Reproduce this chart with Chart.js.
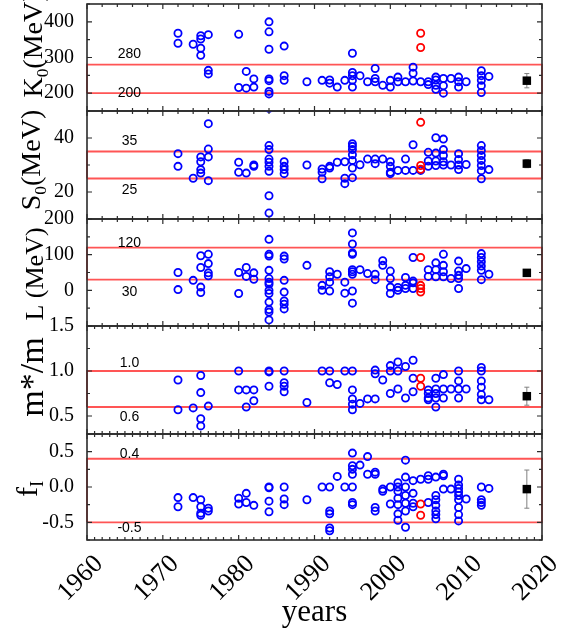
<!DOCTYPE html>
<html>
<head>
<meta charset="utf-8">
<script src="https://cdn.jsdelivr.net/npm/chart.js@4.4.1/dist/chart.umd.min.js"></script>
<style>
  html, body { margin: 0; padding: 0; background: #fff; }
  #stack { position: relative; width: 576px; height: 630px; overflow: hidden; background: #fff; }
  #stack canvas { position: absolute; left: 0; top: 0; }
</style>
</head>
<body>
<div id="stack"></div>
<script>
// ---------------- data ----------------
const YEAR_RANGE = [1960, 2020];
const YEAR_LABELS = [1960, 1970, 1980, 1990, 2000, 2010, 2020];

// K0 (MeV): [year, value]
const K0_BLUE = [
  [1972,368],[1972,340],[1974,337],
  [1975,361],[1975,352],[1975,326],[1975,306],
  [1976,364],[1976,264],[1976,254],
  [1980,365],[1980,216],[1981,261],[1981,214],[1982,240],[1982,217],
  [1984,400],[1984,372],[1984,323],[1984,240],[1984,235],[1984,205],[1984,198],
  [1986,332],[1986,249],[1986,236],
  [1989,232],[1991,236],[1992,237],[1992,228],[1993,217],[1994,236],
  [1995,312],[1995,258],[1995,249],[1995,236],[1995,217],
  [1996,249],[1997,232],[1998,269],[1998,241],[1998,232],[1999,222],
  [2000,236],[2000,217],[2001,245],[2001,232],[2002,232],
  [2003,273],[2003,256],[2003,234],[2004,232],[2005,232],[2005,224],
  [2006,245],[2006,237],[2006,222],[2006,211],
  [2007,241],[2007,221],[2007,200],[2008,241],
  [2009,245],[2009,232],[2009,217],[2010,232],
  [2012,263],[2012,249],[2012,236],[2012,221],[2012,202],[2013,247]
];
const K0_RED = [[2004,368],[2004,328]];
const K0_BAND = [200, 280];
const K0_AVG = [2018, 235, 20];      // year, mean, error
const K0_RANGE = [150, 450];

// S0 (MeV)
const S0_BLUE = [
  [1972,34.2],[1972,29.5],[1974,25.1],
  [1975,33.0],[1975,31.2],[1975,28.3],[1975,27.0],
  [1976,45.3],[1976,35.9],[1976,33.0],[1976,24.2],
  [1980,31.0],[1980,27.3],[1981,27.0],[1982,30.0],[1982,29.5],
  [1984,51],[1984,37.2],[1984,35.7],[1984,32.2],[1984,31.0],[1984,29.5],[1984,27.7],[1984,18.6],[1984,12.2],
  [1986,31.2],[1986,29.5],[1986,28.3],[1986,26.8],
  [1989,30.0],[1991,28.5],[1991,27.3],[1991,24.9],[1992,29.5],[1992,28.9],[1993,31.0],
  [1994,31.2],[1994,25.1],[1994,23.1],
  [1995,37.9],[1995,36.9],[1995,35.7],[1995,33.8],[1995,31.7],[1995,28.9],[1995,25.3],
  [1996,30.1],[1997,32.2],[1998,32.2],[1998,30.5],[1999,32.2],
  [2000,31.2],[2000,29.5],[2000,27.3],[2000,26.8],[2001,28.0],[2002,32.2],[2002,28.0],
  [2003,37.5],[2003,28.0],[2004,28.0],
  [2005,34.7],[2005,31.5],[2005,29.5],
  [2006,40.1],[2006,34.4],[2006,31.5],[2006,29.8],
  [2007,39.6],[2007,35.7],[2007,33.5],[2007,31.2],[2007,30.0],[2008,30.0],
  [2009,34.2],[2009,32.0],[2009,30.0],[2009,28.3],[2010,30.2],
  [2012,37.2],[2012,35.4],[2012,33.5],[2012,31.7],[2012,29.8],[2012,27.9],[2012,24.9],[2013,28.3]
];
const S0_RED = [[2004,45.8],[2004,29.8],[2004,28.4]];
const S0_BAND = [25, 35];
const S0_AVG = [2018, 30.5, 1.5];
const S0_RANGE = [10, 50];

// L (MeV)
const L_BLUE = [
  [1972,50],[1972,2],[1974,28],
  [1975,97],[1975,64],[1975,9],[1975,-6],
  [1976,101],[1976,75],[1976,49],[1976,41],
  [1980,50],[1980,-9],[1981,64],[1981,39],[1982,49],[1982,31],
  [1984,143],[1984,101],[1984,96],[1984,56],[1984,33],[1984,23],[1984,17],[1984,0],[1984,-9],[1984,-33],[1984,-54],[1984,-61],[1984,-83],
  [1986,96],[1986,88],[1986,28],[1986,-5],[1986,-30],[1986,-39],[1986,-52],
  [1989,70],[1991,14],[1991,0],[1992,52],[1992,38],[1992,23],[1992,-2],[1993,45],[1994,23],[1994,-8],
  [1995,161],[1995,130],[1995,105],[1995,101],[1995,58],[1995,52],[1995,45],[1995,-2],[1995,-36],
  [1996,58],[1997,47],[1998,45],[1998,30],[1999,83],[1999,70],
  [2000,54],[2000,33],[2000,9],[2000,-9],[2001,8],[2001,0],[2002,36],[2002,14],[2002,5],
  [2003,92],[2003,26],[2003,21],[2003,5],
  [2005,58],[2005,39],[2006,77],[2006,58],[2006,38],
  [2007,101],[2007,70],[2007,52],[2007,38],[2008,33],
  [2009,82],[2009,54],[2009,42],[2009,33],[2009,5],[2010,61],
  [2012,103],[2012,92],[2012,80],[2012,68],[2012,56],[2012,30],[2013,45]
];
const L_RED = [[2004,92],[2004,14],[2004,5],[2004,-5]];
const L_BAND = [30, 120];
const L_AVG = [2018, 49, 9];
const L_RANGE = [-100, 200];

// m*/m
const M_BLUE = [
  [1972,0.90],[1972,0.57],[1974,0.59],
  [1975,0.95],[1975,0.76],[1975,0.47],[1975,0.39],[1976,0.61],
  [1980,1.0],[1980,0.79],[1981,0.79],[1981,0.60],[1982,0.79],[1982,0.67],
  [1984,1.0],[1984,0.99],[1984,0.83],
  [1986,1.0],[1986,0.87],[1986,0.83],[1986,0.77],
  [1989,0.65],[1991,1.0],[1992,1.0],[1992,0.87],[1993,0.85],[1994,1.0],
  [1995,1.0],[1995,0.79],[1995,0.69],[1995,0.63],[1995,0.57],
  [1996,0.64],[1997,0.69],[1998,1.01],[1998,0.97],[1998,0.69],[1999,0.90],
  [2000,1.06],[2000,1.0],[2000,0.75],[2001,1.10],[2001,1.0],[2001,0.80],
  [2002,1.05],[2002,0.70],[2003,1.12],[2003,0.92],[2003,0.77],
  [2005,0.79],[2005,0.75],[2005,0.70],[2005,0.68],
  [2006,0.92],[2006,0.80],[2006,0.75],[2006,0.70],[2006,0.60],
  [2007,0.96],[2007,0.80],[2007,0.70],[2008,0.80],
  [2009,1.0],[2009,0.89],[2009,0.80],[2009,0.70],[2010,0.80],
  [2012,1.04],[2012,1.0],[2012,0.89],[2012,0.82],[2012,0.74],[2012,0.68],[2013,0.68]
];
const M_RED = [[2004,0.92],[2004,0.83]];
const M_BAND = [0.6, 1.0];
const M_AVG = [2018, 0.72, 0.10];
const M_RANGE = [0.3, 1.5];

// f_I
const F_BLUE = [
  [1972,-0.15],[1972,-0.28],[1974,-0.15],
  [1975,-0.18],[1975,-0.28],[1975,-0.37],[1975,-0.40],[1976,-0.30],[1976,-0.34],
  [1980,-0.16],[1980,-0.24],[1981,-0.09],[1981,-0.22],[1982,-0.26],
  [1984,0.0],[1984,-0.01],[1984,-0.20],[1984,-0.35],
  [1986,0.0],[1986,-0.17],[1986,-0.25],[1989,-0.18],[1991,0.0],
  [1992,0.0],[1992,-0.34],[1992,-0.38],[1992,-0.58],[1992,-0.62],
  [1993,0.15],[1994,0.0],
  [1995,0.48],[1995,0.30],[1995,0.25],[1995,0.18],[1995,0.0],[1995,-0.22],[1995,-0.25],
  [1996,0.31],[1997,0.43],[1997,0.18],[1998,0.21],[1998,0.18],[1998,-0.29],[1998,-0.34],
  [1999,-0.03],[1999,-0.06],[2000,0.0],[2000,-0.24],
  [2001,0.06],[2001,0.0],[2001,-0.06],[2001,-0.16],[2001,-0.25],[2001,-0.38],[2001,-0.47],
  [2002,0.38],[2002,0.14],[2002,0.0],[2002,-0.12],[2002,-0.23],[2002,-0.34],[2002,-0.57],
  [2003,0.09],[2003,-0.09],[2003,-0.23],[2003,-0.28],[2004,0.11],
  [2005,0.16],[2005,0.11],[2005,-0.22],
  [2006,0.14],[2006,-0.12],[2006,-0.18],[2006,-0.26],[2006,-0.34],[2006,-0.39],[2006,-0.45],
  [2007,0.18],[2007,0.16],[2007,-0.03],[2008,-0.03],
  [2009,0.11],[2009,0.03],[2009,-0.02],[2009,-0.07],[2009,-0.12],[2009,-0.18],[2009,-0.29],[2009,-0.39],[2009,-0.48],
  [2010,-0.17],[2012,0.0],[2012,-0.18],[2012,-0.22],[2012,-0.26],[2013,-0.02]
];
const F_RED = [[2004,-0.24],[2004,-0.40]];
const F_BAND = [-0.5, 0.4];
const F_AVG = [2018, -0.03, 0.27];
const F_RANGE = [-0.75, 0.75];

// ---------------- layout & style ----------------
const W = 576, H = 630;
const PLOT_LEFT = 87, PLOT_RIGHT = 542;
const EDGES = [4, 111, 219, 326, 434, 540];
const SERIF = '"Liberation Serif", "Times New Roman", serif';
const SANS = '"Liberation Sans", Arial, sans-serif';
const BLUE = '#0000ff', RED = '#ff0000', BAND = '#ff5555', FRAME = '#2b2b2b';
const BAND_LABEL_YEAR = 1965.6;

const PANELS = [
  { blue: K0_BLUE, red: K0_RED, band: K0_BAND, avg: K0_AVG, range: K0_RANGE,
    minor: 50, major: 100, shown: [200, 400], digits: 0, bandDigits: 0, xMinor: 2,
    bandDy: [0, -10],
    title: [['K', 0], ['0', 1], ['(MeV)', 0]], titleSize: 28, titleX: 42, titleY: 45 },
  { blue: S0_BLUE, red: S0_RED, band: S0_BAND, avg: S0_AVG, range: S0_RANGE,
    minor: 10, major: 20, shown: [20, 40], digits: 0, bandDigits: 0, xMinor: 2,
    bandDy: [12, -10],
    title: [['S', 0], ['0', 1], ['(MeV)', 0]], titleSize: 28, titleX: 40, titleY: 160 },
  { blue: L_BLUE, red: L_RED, band: L_BAND, avg: L_AVG, range: L_RANGE,
    minor: 50, major: 100, shown: [0, 200], digits: 0, bandDigits: 0, xMinor: 2,
    bandDy: [12.5, -4.5],
    title: [['L (MeV)', 0]], titleSize: 26, titleX: 43, titleY: 274 },
  { blue: M_BLUE, red: M_RED, band: M_BAND, avg: M_AVG, range: M_RANGE,
    minor: 0.25, major: 0.5, shown: [0.5, 1.5], digits: 1, bandDigits: 1, xMinor: 1,
    bandDy: [10, -8],
    title: [['m*/m', 0]], titleSize: 34, titleX: 43, titleY: 377 },
  { blue: F_BLUE, red: F_RED, band: F_BAND, avg: F_AVG, range: F_RANGE,
    minor: 0.25, major: 0.5, shown: [-0.5, 0.5], digits: 1, bandDigits: 1, xMinor: 1,
    bandDy: [6, -4.5],
    title: [['f', 0], ['I', 1]], titleSize: 30, titleX: 37, titleY: 489 }
];

const toXY = arr => arr.map(([x, y]) => ({ x, y }));
const isMultiple = (v, step) => Math.abs(v / step - Math.round(v / step)) < 1e-6;

function drawRotatedRich(ctx, parts, size, baseX, centerY) {
  ctx.save();
  ctx.translate(baseX, centerY);
  ctx.rotate(-Math.PI / 2);
  let total = 0;
  const segs = parts.map(([t, sub]) => {
    const fs = sub ? size * 0.62 : size;
    ctx.font = `${fs}px ${SERIF}`;
    const w = ctx.measureText(t).width;
    total += w;
    return { t, sub, fs, w };
  });
  let x = -total / 2;
  ctx.textAlign = 'left';
  ctx.textBaseline = 'alphabetic';
  ctx.fillStyle = '#000';
  for (const s of segs) {
    ctx.font = `${s.fs}px ${SERIF}`;
    ctx.fillText(s.t, x, s.sub ? size * 0.2 : 0);
    x += s.w;
  }
  ctx.restore();
}

// frame with inward ticks on all four sides
const framePlugin = {
  id: 'frame',
  afterDraw(chart, args, opts) {
    const { ctx, chartArea: a, scales } = chart;
    const xs = scales.x, ys = scales.y;
    ctx.save();
    ctx.strokeStyle = FRAME;
    ctx.lineWidth = 1.2;
    ctx.beginPath();
    for (let yr = YEAR_RANGE[0]; yr <= YEAR_RANGE[1]; yr += opts.xMinor) {
      const px = xs.getPixelForValue(yr);
      const len = yr % 10 === 0 ? 5 : 3;
      ctx.moveTo(px, a.bottom); ctx.lineTo(px, a.bottom - len);
      ctx.moveTo(px, a.top); ctx.lineTo(px, a.top + len);
    }
    for (const t of ys.ticks) {
      const py = ys.getPixelForValue(t.value);
      const len = isMultiple(t.value, opts.major) ? 5 : 3;
      ctx.moveTo(a.left, py); ctx.lineTo(a.left + len, py);
      ctx.moveTo(a.right, py); ctx.lineTo(a.right - len, py);
    }
    ctx.stroke();
    ctx.lineWidth = 1.6;
    ctx.strokeRect(a.left, a.top, a.right - a.left, a.bottom - a.top);
    ctx.restore();
  }
};

// error bar of the average point, under the marker
const errorBarPlugin = {
  id: 'errorBar',
  beforeDatasetsDraw(chart, args, opts) {
    const [yr, mean, err] = opts.avg;
    const { ctx, scales } = chart;
    const px = scales.x.getPixelForValue(yr);
    const y1 = scales.y.getPixelForValue(mean + err);
    const y2 = scales.y.getPixelForValue(mean - err);
    ctx.save();
    ctx.strokeStyle = '#808080';
    ctx.lineWidth = 1;
    ctx.beginPath();
    ctx.moveTo(px, y1); ctx.lineTo(px, y2);
    ctx.moveTo(px - 2.5, y1); ctx.lineTo(px + 2.5, y1);
    ctx.moveTo(px - 2.5, y2); ctx.lineTo(px + 2.5, y2);
    ctx.stroke();
    ctx.restore();
  }
};

// band limit labels and the y-axis title
const textPlugin = {
  id: 'panelText',
  afterDraw(chart, args, opts) {
    const { ctx, scales } = chart;
    const p = opts.panel;
    ctx.save();
    ctx.fillStyle = '#000';
    ctx.font = `14px ${SANS}`;
    ctx.textAlign = 'center';
    ctx.textBaseline = 'middle';
    const lx = scales.x.getPixelForValue(BAND_LABEL_YEAR);
    p.band.forEach((v, i) => {
      ctx.fillText(v.toFixed(p.bandDigits), lx, scales.y.getPixelForValue(v) + p.bandDy[i]);
    });
    ctx.restore();
    drawRotatedRich(ctx, p.title, p.titleSize, p.titleX, p.titleY);
  }
};

// year labels and axis title under the last panel
const yearAxisPlugin = {
  id: 'yearAxis',
  afterDraw(chart, args, opts) {
    if (!opts.show) return;
    const { ctx, scales, chartArea: a } = chart;
    ctx.save();
    ctx.fillStyle = '#000';
    ctx.font = `26px ${SERIF}`;
    ctx.textAlign = 'right';
    ctx.textBaseline = 'middle';
    for (const yr of YEAR_LABELS) {
      const px = scales.x.getPixelForValue(yr);
      ctx.save();
      ctx.translate(px + 12, a.bottom + 20);
      ctx.rotate(-Math.PI / 4);
      ctx.fillText(String(yr), 0, 0);
      ctx.restore();
    }
    ctx.font = `31px ${SERIF}`;
    ctx.textAlign = 'center';
    ctx.textBaseline = 'alphabetic';
    ctx.fillText('years', (a.left + a.right) / 2, 621);
    ctx.restore();
  }
};

const stack = document.getElementById('stack');
PANELS.forEach((p, i) => {
  const canvas = document.createElement('canvas');
  canvas.width = W; canvas.height = H;
  canvas.style.width = W + 'px'; canvas.style.height = H + 'px';
  stack.appendChild(canvas);
  const top = EDGES[i], bottom = EDGES[i + 1];
  const [x0, x1] = YEAR_RANGE;
  const [b0, b1] = p.band;
  const circle = color => ({
    pointStyle: 'circle', pointRadius: 3.6, pointHoverRadius: 3.6,
    borderWidth: 1.8, borderColor: color, backgroundColor: 'rgba(0,0,0,0)'
  });
  new Chart(canvas, {
    type: 'scatter',
    data: {
      datasets: [
        { data: [{ x: p.avg[0], y: p.avg[1] }], pointStyle: 'rect', pointRadius: 6,
          borderWidth: 0, borderColor: '#000', backgroundColor: '#000' },
        Object.assign({ data: toXY(p.red) }, circle(RED)),
        Object.assign({ data: toXY(p.blue) }, circle(BLUE)),
        { type: 'line', data: [{ x: x0, y: b0 }, { x: x0, y: b1 }, { x: x1, y: b1 }, { x: x1, y: b0 }, { x: x0, y: b0 }],
          showLine: true, pointRadius: 0, borderColor: BAND, borderWidth: 1.8, fill: false, tension: 0, clip: 3 }
      ]
    },
    options: {
      responsive: false, animation: false, devicePixelRatio: 1, events: [],
      layout: { autoPadding: false, padding: { top: top, right: W - PLOT_RIGHT, bottom: 0, left: 0 } },
      plugins: {
        legend: { display: false }, tooltip: { enabled: false },
        frame: { xMinor: p.xMinor, major: p.major },
        errorBar: { avg: p.avg },
        panelText: { panel: p },
        yearAxis: { show: i === PANELS.length - 1 }
      },
      scales: {
        x: {
          type: 'linear', min: x0, max: x1,
          ticks: { display: false, stepSize: 10 },
          grid: { display: false }, border: { display: false },
          afterFit: s => { s.height = H - bottom; s.paddingLeft = 0; s.paddingRight = 0; }
        },
        y: {
          type: 'linear', min: p.range[0], max: p.range[1],
          ticks: {
            stepSize: p.minor, includeBounds: false, autoSkip: false, padding: 5, color: '#000',
            font: { family: SERIF, size: 20 },
            callback: v => (isMultiple(v, p.major) && v >= p.shown[0] - 1e-9 && v <= p.shown[1] + 1e-9)
              ? Number(v).toFixed(p.digits) : ''
          },
          grid: { display: false }, border: { display: false },
          afterFit: s => { s.width = PLOT_LEFT; s.paddingTop = 0; s.paddingBottom = 0; }
        }
      }
    },
    plugins: [errorBarPlugin, framePlugin, textPlugin, yearAxisPlugin]
  });
});
</script>
</body>
</html>
